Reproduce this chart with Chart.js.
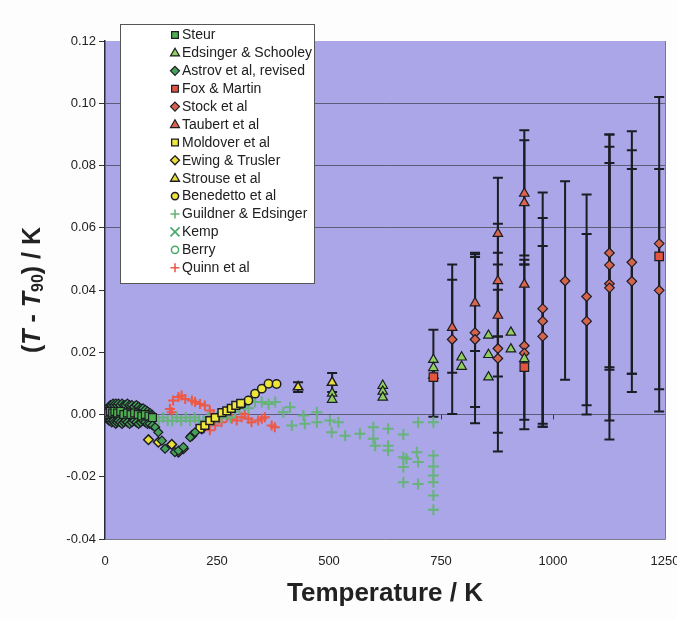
<!DOCTYPE html>
<html><head><meta charset="utf-8">
<script src="https://cdn.jsdelivr.net/npm/chart.js@4.4.1/dist/chart.umd.min.js"></script>
<style>html,body{margin:0;padding:0;background:#fdfdfd;}</style>
</head><body>
<canvas id="c" width="677" height="619"></canvas>
<script>
// ---------- data ----------
const xTickValues = [0, 250, 500, 750, 1000, 1250];
const yTickValues = [-0.04, -0.02, 0.00, 0.02, 0.04, 0.06, 0.08, 0.10, 0.12];

const steurT = [4, 8, 12, 17, 22, 28, 35, 42, 50, 58, 66, 74, 82, 90, 98, 106];
const steurV = [0.000, 0.0005, 0.001, 0.0005, 0.001, 0.0005, 0.001, 0.000, 0.0005, 0.000, 0.0005, 0.000, -0.0005, 0.000, -0.0005, -0.001];

const edsingerT = [507, 507, 620, 620, 620, 733, 733, 796, 796, 856, 856, 856, 906, 906, 936];
const edsingerV = [0.0068, 0.0048, 0.0093, 0.0074, 0.0055, 0.0176, 0.0150, 0.0184, 0.0154, 0.0254, 0.0192, 0.0120, 0.0264, 0.0210, 0.0179];

const astrovT = [3, 6, 9, 12, 15, 18, 21, 24, 27, 30, 34, 38, 42, 46, 50, 55, 60, 65, 70, 75, 80, 85, 90, 95, 100, 105,
  3, 6, 9, 12, 15, 18, 21, 24, 27, 30, 34, 38, 42, 46, 50, 55, 60, 65, 70, 75, 80, 85, 90, 95, 100, 106,
  112, 119, 127, 134, 156, 164, 175, 190, 201];
const astrovV = [0.001, 0.002, 0.0025, 0.003, 0.003, 0.0035, 0.003, 0.0035, 0.003, 0.0035, 0.003, 0.0035, 0.003, 0.003, 0.0035, 0.003, 0.003, 0.0025, 0.003, 0.0025, 0.002, 0.002, 0.0015, 0.001, 0.0005, 0.000,
  -0.001, -0.0015, -0.002, -0.002, -0.0025, -0.002, -0.0025, -0.003, -0.0025, -0.002, -0.0025, -0.003, -0.0025, -0.002, -0.0025, -0.003, -0.0025, -0.002, -0.0025, -0.003, -0.0025, -0.002, -0.0025, -0.003, -0.003, -0.0035,
  -0.0041, -0.0057, -0.0084, -0.0110, -0.0121, -0.0116, -0.0105, -0.0073, -0.0057];

const foxT = [733, 936, 1237];
const foxV = [0.0120, 0.0152, 0.0508];

const stockT = [775, 826, 826, 877, 877, 936, 936, 977, 977, 977, 1027, 1075, 1075, 1126, 1126, 1126, 1126, 1176, 1176, 1237, 1237];
const stockV = [0.0241, 0.0263, 0.0241, 0.0212, 0.0180, 0.0221, 0.0197, 0.0340, 0.0300, 0.0251, 0.0429, 0.0379, 0.0300, 0.0519, 0.0480, 0.0420, 0.0407, 0.0489, 0.0428, 0.0549, 0.0399];

const taubertT = [733, 775, 826, 877, 877, 877, 936, 936, 936];
const taubertV = [0.0125, 0.0279, 0.0358, 0.0581, 0.0429, 0.0318, 0.0710, 0.0680, 0.0418];

const moldoverT = [212, 223, 234, 246, 261, 272, 282, 292, 303];
const moldoverV = [-0.0045, -0.0035, -0.0020, -0.0010, 0.0006, 0.0012, 0.0020, 0.0029, 0.0036];

const ewingT = [97, 119, 149, 164, 175, 194, 216];
const ewingV = [-0.0081, -0.0089, -0.0096, -0.0121, -0.0110, -0.0068, -0.0046];

const strouseT = [431, 507];
const strouseV = [0.0088, 0.0103];

const benedettoT = [305, 320, 335, 350, 365, 383];
const benedettoV = [0.0034, 0.0045, 0.0067, 0.0083, 0.0099, 0.0098];

const guildnerT = [13, 20, 27, 35, 43, 50, 57, 65, 73, 80, 90, 100, 110, 120, 130, 140, 150, 160, 170, 180, 190, 200, 210, 220, 230, 240, 250, 260, 270, 280, 290, 300, 310, 320, 335, 350, 365, 380,
  398, 413, 417, 443, 446, 473, 473, 502, 506, 521, 536, 569, 599, 599, 603, 632, 632, 632, 666, 666, 666, 673, 696, 699, 699, 666, 699, 733, 733, 733, 733, 733, 733, 733];
const guildnerV = [0.000, 0.000, -0.001, 0.000, -0.001, -0.001, 0.000, -0.001, -0.001, -0.002, -0.001, -0.002, -0.001, -0.002, -0.001, -0.002, -0.002, -0.001, -0.002, -0.001, -0.002, -0.001, -0.002, -0.002, -0.001, -0.002, -0.001, -0.001, 0.000, -0.001, 0.001, 0.002, 0.003, 0.002, 0.004, 0.004, 0.0034, 0.004,
  0.0007, 0.0023, -0.0035, -0.0003, -0.0030, 0.0007, -0.0025, -0.0019, -0.0057, -0.0025, -0.0068, -0.0062, -0.0041, -0.0078, -0.0100, -0.0046, -0.0100, -0.0116, -0.0064, -0.0137, -0.0169, -0.0142, -0.0121, -0.0153, -0.0223, -0.0218, -0.0025, -0.0025, -0.0132, -0.0167, -0.0196, -0.0218, -0.0260, -0.0306];

const kempT = [14, 17, 20, 25, 30, 40, 54, 70, 84];
const kempV = [0.000, 0.000, 0.001, 0.001, 0.001, 0.001, 0.000, 0.000, -0.001];

const berryT = [20, 27, 35, 54, 77, 90];
const berryV = [0.000, 0.001, 0.001, 0.000, -0.001, 0.000];

const quinnT = [145, 149, 152, 164, 171, 179, 194, 201, 212, 223, 234, 242, 253, 260, 272, 283, 294, 305, 312, 320, 327, 342, 350, 357, 372, 379, 246, 234];
const quinnV = [0.0018, 0.0007, 0.0045, 0.0056, 0.0061, 0.0050, 0.0045, 0.0040, 0.0034, 0.0029, 0.0013, 0.0002, -0.0014, -0.0025, -0.0009, -0.0014, -0.0019, -0.0009, 0.0002, -0.0014, -0.0025, -0.0019, -0.0014, -0.0009, -0.0035, -0.0041, -0.0035, -0.0051];

// uncertainty bars: [temperature, lower, upper]
const errorBars = [
  [431, 0.0072, 0.0104], [507, 0.0072, 0.0133],
  [733, -0.0007, 0.0272],
  [775, 0.0002, 0.0482], [775, 0.0134, 0.0433],
  [826, 0.0024, 0.0520], [826, -0.0028, 0.0515], [826, 0.0204, 0.0506],
  [877, -0.0119, 0.0761], [877, -0.0059, 0.0482], [877, 0.0122, 0.0520], [877, 0.0251, 0.0613], [877, 0.0251, 0.0401],
  [936, 0.0511, 0.0913], [936, 0.0482, 0.0881], [936, -0.0017, 0.0497], [936, -0.0047, 0.0482],
  [977, -0.0030, 0.0713], [977, -0.0039, 0.0631], [977, -0.0039, 0.0541],
  [1027, 0.0112, 0.0749],
  [1075, 0.0030, 0.0707], [1075, 0.0000, 0.0580],
  [1126, 0.0144, 0.0900], [1126, 0.0152, 0.0808], [1126, -0.0019, 0.0860], [1126, -0.0080, 0.0900],
  [1176, 0.0131, 0.0849], [1176, 0.0072, 0.0910], [1176, 0.0131, 0.0789],
  [1237, 0.0081, 0.1020], [1237, 0.0010, 0.0789]
];

// ---------- helpers ----------
const FONT = '"Liberation Sans", Arial, Helvetica, sans-serif';
const zip = (xs, ys) => xs.map((x, i) => ({x: x, y: ys[i]}));
const DARK = '#1c1c24';

function ds(label, xs, ys, style, fill, border, r, bw) {
  return {label, data: zip(xs, ys), pointStyle: style, backgroundColor: fill, borderColor: border,
    pointRadius: r, pointBorderWidth: bw, showLine: false, pointHoverRadius: r};
}

const datasets = [
  ds('Steur', steurT, steurV, 'rect', '#4fb04f', DARK, 5.5, 1.2),
  ds('Edsinger & Schooley', edsingerT, edsingerV, 'triangle', '#8fd05e', DARK, 5.5, 1.2),
  ds('Astrov et al, revised', astrovT, astrovV, 'rectRot', '#45a058', DARK, 4.5, 1.2),
  ds('Fox & Martin', foxT, foxV, 'rect', '#e2553f', DARK, 6, 1.2),
  ds('Stock et al', stockT, stockV, 'rectRot', '#d4644c', DARK, 4.8, 1.2),
  ds('Taubert et al', taubertT, taubertV, 'triangle', '#dc644c', DARK, 5.5, 1.2),
  ds('Moldover et al', moldoverT, moldoverV, 'rect', '#f0e83c', DARK, 5.5, 1.5),
  ds('Ewing & Trusler', ewingT, ewingV, 'rectRot', '#eadf34', DARK, 4.8, 1.5),
  ds('Strouse et al', strouseT, strouseV, 'triangle', '#e7dc3a', DARK, 5.5, 1.5),
  ds('Benedetto et al', benedettoT, benedettoV, 'circle', '#ede538', DARK, 4.2, 1.5),
  ds('Guildner & Edsinger', guildnerT, guildnerV, 'cross', '#66b47a', '#66b47a', 5.5, 2),
  ds('Kemp', kempT, kempV, 'crossRot', '#4aa86a', '#4aa86a', 4, 2),
  ds('Berry', berryT, berryV, 'circle', 'rgba(0,0,0,0)', '#4aa86a', 3.5, 1.5),
  ds('Quinn et al', quinnT, quinnV, 'cross', '#ea5a48', '#ea5a48', 5, 2)
];

// ---------- marker drawer for legend ----------
function drawMarker(ctx, d, x, y, r) {
  ctx.save();
  ctx.fillStyle = d.backgroundColor; ctx.strokeStyle = d.borderColor;
  ctx.lineWidth = Math.min(d.pointBorderWidth, 1.3);
  ctx.beginPath();
  switch (d.pointStyle) {
    case 'rect': { const s = r * 0.75; ctx.rect(x - s, y - s, 2 * s, 2 * s); ctx.fill(); ctx.stroke(); break; }
    case 'rectRot': ctx.moveTo(x, y - r); ctx.lineTo(x + r, y); ctx.lineTo(x, y + r); ctx.lineTo(x - r, y); ctx.closePath(); ctx.fill(); ctx.stroke(); break;
    case 'triangle': { const h = r * 1.05; ctx.moveTo(x, y - h); ctx.lineTo(x + h * 0.95, y + h * 0.65); ctx.lineTo(x - h * 0.95, y + h * 0.65); ctx.closePath(); ctx.fill(); ctx.stroke(); break; }
    case 'circle': ctx.arc(x, y, r * 0.8, 0, Math.PI * 2); ctx.fill(); ctx.lineWidth = 1.5; ctx.stroke(); break;
    case 'cross': ctx.lineWidth = 1.6; ctx.moveTo(x - r, y); ctx.lineTo(x + r, y); ctx.moveTo(x, y - r); ctx.lineTo(x, y + r); ctx.stroke(); break;
    case 'crossRot': ctx.lineWidth = 1.6; ctx.moveTo(x - r, y - r); ctx.lineTo(x + r, y + r); ctx.moveTo(x + r, y - r); ctx.lineTo(x - r, y + r); ctx.stroke(); break;
  }
  ctx.restore();
}

const decorPlugin = {
  id: 'decor',
  beforeDraw(chart) {
    const {ctx, chartArea: a} = chart;
    ctx.save();
    ctx.fillStyle = '#aaa6e7';
    ctx.fillRect(a.left, a.top, a.right - a.left, a.bottom - a.top);
    ctx.restore();
  },
  beforeDatasetsDraw(chart) {
    const {ctx, scales: {x, y}} = chart;
    ctx.save();
    const y0 = y.getPixelForValue(0);
    ctx.strokeStyle = '#3a3a55'; ctx.lineWidth = 1;
    xTickValues.forEach(v => {
      const px = Math.round(x.getPixelForValue(v)) + 0.5;
      ctx.beginPath(); ctx.moveTo(px, y0); ctx.lineTo(px, y0 + 5); ctx.stroke();
    });
    ctx.strokeStyle = DARK; ctx.lineWidth = 2;
    errorBars.forEach(([t, lo, hi]) => {
      const px = x.getPixelForValue(t), p1 = y.getPixelForValue(lo), p2 = y.getPixelForValue(hi);
      ctx.beginPath();
      ctx.moveTo(px, p1); ctx.lineTo(px, p2);
      ctx.moveTo(px - 5, p1); ctx.lineTo(px + 5, p1);
      ctx.moveTo(px - 5, p2); ctx.lineTo(px + 5, p2);
      ctx.stroke();
    });
    ctx.restore();
  },
  afterDraw(chart) {
    const {ctx, chartArea: a} = chart;
    ctx.save();
    ctx.strokeStyle = '#7a7a88'; ctx.lineWidth = 1;
    ctx.beginPath();
    ctx.moveTo(a.right + 0.5, a.top); ctx.lineTo(a.right + 0.5, a.bottom + 0.5); ctx.lineTo(a.left, a.bottom + 0.5);
    ctx.stroke();
    // legend box
    const lx = 120, ly = 24, lw = 194, lh = 259;
    ctx.fillStyle = '#ffffff'; ctx.fillRect(lx, ly, lw, lh);
    ctx.strokeStyle = '#555555'; ctx.lineWidth = 1;
    ctx.strokeRect(lx + 0.5, ly + 0.5, lw, lh);
    ctx.font = '14px ' + FONT; ctx.textBaseline = 'middle'; ctx.textAlign = 'left';
    chart.data.datasets.forEach((d, i) => {
      const yy = 35 + i * 17.9;
      drawMarker(ctx, d, 175, yy, 4.5);
      ctx.fillStyle = '#202020';
      ctx.fillText(d.label, 182, yy + 0.5);
    });
    // y title with italics and subscript
    const segs = [
      {t: '(', f: 'bold 25px '},
      {t: 'T', f: 'italic bold 25px '},
      {t: ' - ', f: 'bold 25px '},
      {t: 'T', f: 'italic bold 25px '},
      {t: '90', f: 'bold 16px ', dy: 6},
      {t: ') / K', f: 'bold 25px '}
    ];
    let w = 0;
    segs.forEach(s => { ctx.font = s.f + FONT; s.w = ctx.measureText(s.t).width; w += s.w; });
    ctx.translate(33, 290);
    ctx.rotate(-Math.PI / 2);
    ctx.fillStyle = '#222222'; ctx.textBaseline = 'middle';
    let cx = -w / 2;
    segs.forEach(s => { ctx.font = s.f + FONT; ctx.fillText(s.t, cx, s.dy || 0); cx += s.w; });
    ctx.restore();
  }
};

const darkGrid = [0.10, 0.08, 0.06, 0.00];

new Chart(document.getElementById('c'), {
  type: 'scatter',
  data: {datasets},
  options: {
    responsive: false,
    animation: false,
    events: [],
    layout: {padding: {top: 41, right: 0, bottom: 0, left: 0}},
    plugins: {legend: {display: false}, tooltip: {enabled: false}},
    scales: {
      x: {
        type: 'linear', min: 0, max: 1250,
        afterBuildTicks: s => { s.ticks = xTickValues.map(v => ({value: v})); },
        afterFit: s => { s.height = 80; s.paddingRight = 12; s.paddingLeft = 0; },
        grid: {display: false, drawTicks: false},
        border: {display: false},
        ticks: {padding: 15, maxRotation: 0, autoSkip: false, color: '#222', font: {size: 13, family: FONT},
          callback: v => String(v)},
        title: {display: true, text: 'Temperature / K', color: '#222', font: {size: 26, weight: 'bold', family: FONT}, padding: {top: 0, bottom: 10}}
      },
      y: {
        type: 'linear', min: -0.04, max: 0.12,
        afterBuildTicks: s => { s.ticks = yTickValues.map(v => ({value: v})); },
        afterFit: s => { s.width = 105; },
        grid: {
          drawTicks: true, tickLength: 6, tickColor: '#333',
          color: c => darkGrid.some(v => Math.abs(v - c.tick.value) < 1e-9) ? '#5c5c78' : 'rgba(0,0,0,0)',
          lineWidth: 1
        },
        border: {display: true, color: '#2a2a3a', width: 1.5},
        ticks: {padding: 3, color: '#222', font: {size: 13, family: FONT}, callback: v => v.toFixed(2)}
      }
    }
  },
  plugins: [decorPlugin]
});
</script>
</body></html>
